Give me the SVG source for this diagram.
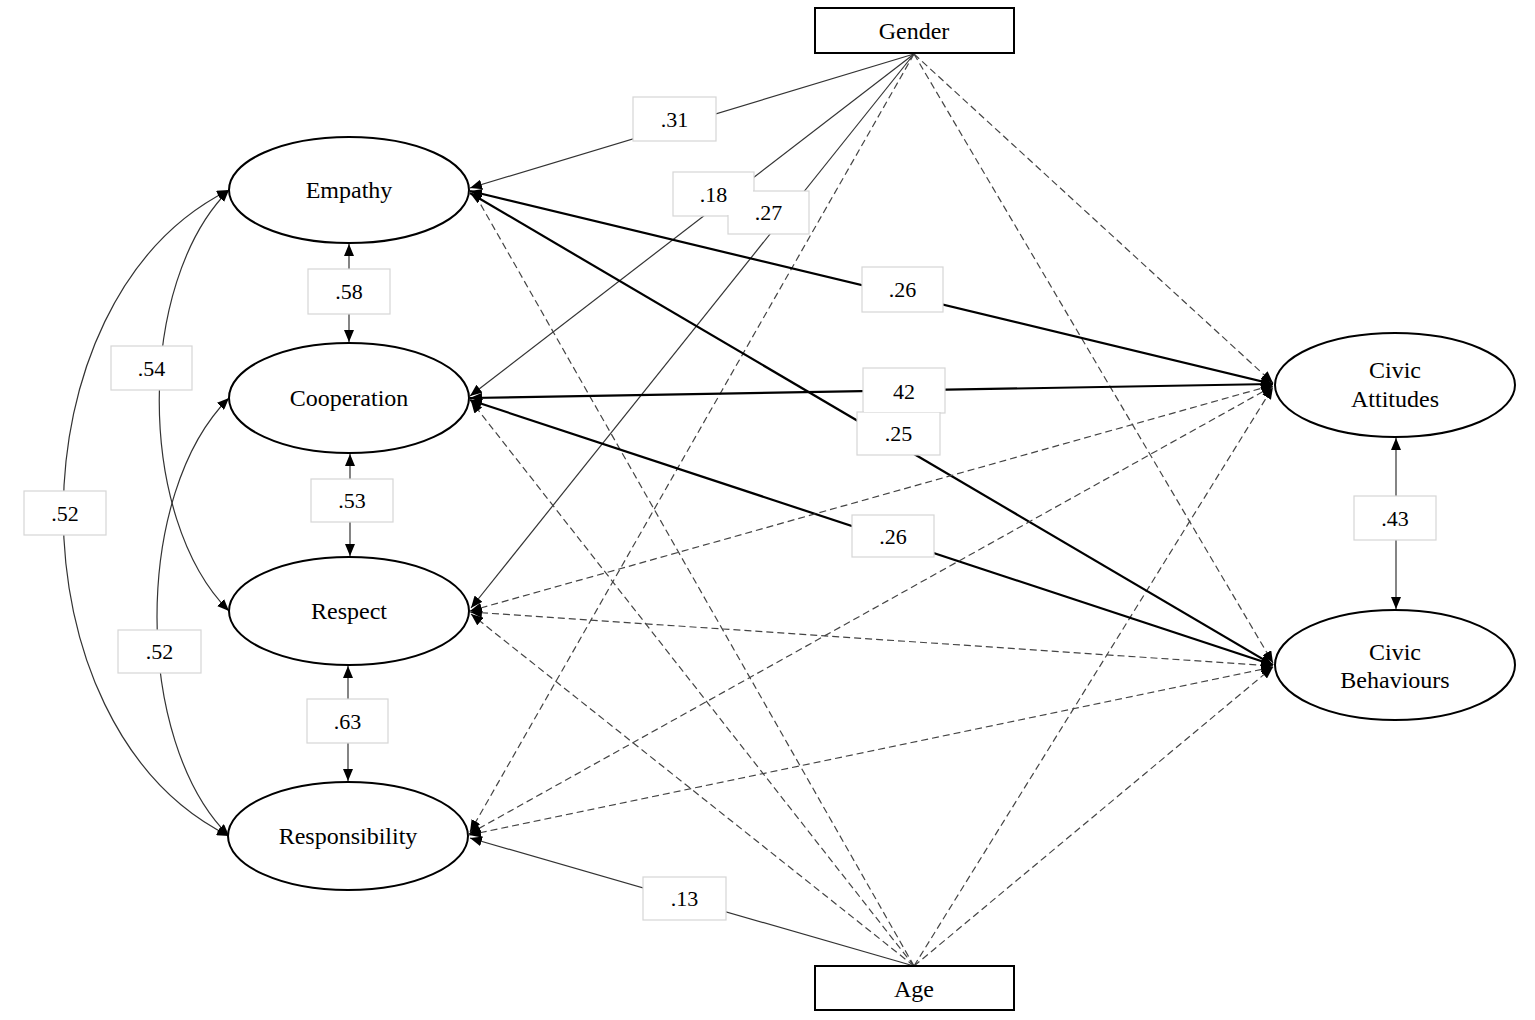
<svg xmlns="http://www.w3.org/2000/svg" width="1535" height="1020" viewBox="0 0 1535 1020">
<style>
.node{fill:#fff;stroke:#000;stroke-width:2}
.nt{font-family:"Liberation Serif","Times New Roman",serif;font-size:24px;fill:#000;text-anchor:middle}
.lt{font-family:"Liberation Serif","Times New Roman",serif;font-size:22px;fill:#000;text-anchor:middle}
.thin{fill:none;stroke:#333;stroke-width:1.2}
.thick{fill:none;stroke:#000;stroke-width:2.2}
.dash{fill:none;stroke:#444;stroke-width:1.2;stroke-dasharray:7 4}
.lb{fill:#fff;stroke:#d6d6d6;stroke-width:1.2}
.lf{fill:#fff;stroke:none}
</style>
<defs>
<marker id="ah" markerUnits="userSpaceOnUse" markerWidth="12" markerHeight="10" viewBox="0 0 12 10" refX="12" refY="5" orient="auto-start-reverse">
<path d="M0,0 L12,5 L0,10 z" fill="#000"/>
</marker>
</defs>
<rect width="1535" height="1020" fill="#fff"/>
<g id="connectors">
<!-- Gender paths -->
<line class="thin" x1="914" y1="54" x2="470" y2="188" marker-end="url(#ah)"/>
<line class="thin" x1="914" y1="54" x2="470" y2="396" marker-end="url(#ah)"/>
<line class="thin" x1="914" y1="54" x2="471" y2="608" marker-end="url(#ah)"/>
<line class="dash" x1="914" y1="54" x2="470" y2="832" marker-end="url(#ah)"/>
<line class="dash" x1="914" y1="54" x2="1273" y2="383" marker-end="url(#ah)"/>
<line class="dash" x1="914" y1="54" x2="1273" y2="663" marker-end="url(#ah)"/>
<!-- Age paths -->
<line class="thin" x1="914" y1="966" x2="470" y2="838" marker-end="url(#ah)"/>
<line class="dash" x1="914" y1="966" x2="477" y2="198"/>
<line class="dash" x1="914" y1="966" x2="471" y2="401" marker-end="url(#ah)"/>
<line class="dash" x1="914" y1="966" x2="471" y2="614" marker-end="url(#ah)"/>
<line class="dash" x1="914" y1="966" x2="1273" y2="387" marker-end="url(#ah)"/>
<line class="dash" x1="914" y1="966" x2="1273" y2="667" marker-end="url(#ah)"/>
<!-- predictor to outcome paths -->
<line class="thick" x1="470" y1="191" x2="1273" y2="384" marker-start="url(#ah)" marker-end="url(#ah)"/>
<line class="thick" x1="470" y1="193" x2="1273" y2="665" marker-start="url(#ah)" marker-end="url(#ah)"/>
<line class="thick" x1="470" y1="398" x2="1273" y2="384" marker-start="url(#ah)" marker-end="url(#ah)"/>
<line class="thick" x1="470" y1="400" x2="1273" y2="665" marker-start="url(#ah)" marker-end="url(#ah)"/>
<line class="dash" x1="470" y1="611" x2="1273" y2="385" marker-start="url(#ah)" marker-end="url(#ah)"/>
<line class="dash" x1="470" y1="612" x2="1273" y2="666" marker-start="url(#ah)" marker-end="url(#ah)"/>
<line class="dash" x1="469" y1="834" x2="1273" y2="386" marker-start="url(#ah)" marker-end="url(#ah)"/>
<line class="dash" x1="469" y1="835" x2="1273" y2="667" marker-start="url(#ah)" marker-end="url(#ah)"/>
<!-- vertical covariances -->
<line class="thin" x1="349" y1="244" x2="349" y2="342" marker-start="url(#ah)" marker-end="url(#ah)"/>
<line class="thin" x1="350" y1="454" x2="350" y2="556" marker-start="url(#ah)" marker-end="url(#ah)"/>
<line class="thin" x1="348" y1="666" x2="348" y2="781" marker-start="url(#ah)" marker-end="url(#ah)"/>
<line class="thin" x1="1396" y1="438" x2="1396" y2="609" marker-start="url(#ah)" marker-end="url(#ah)"/>
<!-- curved covariances -->
<path class="thin" d="M229,190 C8,300 8,726 229,836" marker-start="url(#ah)" marker-end="url(#ah)"/>
<path class="thin" d="M229,190 C136,283 136,518 229,611" marker-start="url(#ah)" marker-end="url(#ah)"/>
<path class="thin" d="M229,398 C133,493 133,741 229,836" marker-start="url(#ah)" marker-end="url(#ah)"/>
</g>
<g id="node-gender"><rect class="node" x="815" y="8" width="199" height="45"/><text class="nt" x="914" y="39">Gender</text></g>
<g id="node-age"><rect class="node" x="815" y="966" width="199" height="44"/><text class="nt" x="914" y="997">Age</text></g>
<g id="node-empathy"><ellipse class="node" cx="349" cy="190" rx="120" ry="53"/><text class="nt" x="349" y="198">Empathy</text></g>
<g id="node-cooperation"><ellipse class="node" cx="349" cy="398" rx="120" ry="55"/><text class="nt" x="349" y="406">Cooperation</text></g>
<g id="node-respect"><ellipse class="node" cx="349" cy="611" rx="120" ry="54"/><text class="nt" x="349" y="619">Respect</text></g>
<g id="node-responsibility"><ellipse class="node" cx="348" cy="836" rx="120" ry="54"/><text class="nt" x="348" y="844">Responsibility</text></g>
<g id="node-civic-attitudes"><ellipse class="node" cx="1395" cy="385" rx="120" ry="52"/><text class="nt" x="1395" y="378">Civic</text><text class="nt" x="1395" y="407">Attitudes</text></g>
<g id="node-civic-behaviours"><ellipse class="node" cx="1395" cy="665" rx="120" ry="55"/><text class="nt" x="1395" y="660">Civic</text><text class="nt" x="1395" y="688">Behaviours</text></g>
<g id="labels">
<rect class="lb" x="633" y="97" width="83" height="44"/><text class="lt" x="674.5" y="127">.31</text>
<rect class="lb" x="673" y="172" width="81" height="44"/>
<rect class="lb" x="728" y="191" width="81" height="43"/>
<rect class="lf" x="674" y="173" width="79" height="42"/>
<rect class="lf" x="729" y="192" width="79" height="41"/>
<text class="lt" x="713.5" y="202">.18</text><text class="lt" x="768.5" y="220">.27</text>
<rect class="lb" x="308" y="269" width="82" height="45"/><text class="lt" x="349" y="299">.58</text>
<rect class="lb" x="862" y="267" width="81" height="45"/><text class="lt" x="902.5" y="297">.26</text>
<rect class="lb" x="111" y="346" width="81" height="44"/><text class="lt" x="151.5" y="376">.54</text>
<rect class="lb" x="863" y="368" width="82" height="45"/>
<rect class="lb" x="857" y="412" width="83" height="43"/>
<rect class="lf" x="864" y="369" width="80" height="43"/>
<rect class="lf" x="858" y="413" width="81" height="41"/>
<text class="lt" x="904" y="399">42</text><text class="lt" x="898.5" y="441">.25</text>
<rect class="lb" x="311" y="479" width="82" height="43"/><text class="lt" x="352" y="508">.53</text>
<rect class="lb" x="24" y="491" width="82" height="44"/><text class="lt" x="65" y="521">.52</text>
<rect class="lb" x="852" y="515" width="82" height="42"/><text class="lt" x="893" y="544">.26</text>
<rect class="lb" x="1354" y="496" width="82" height="44"/><text class="lt" x="1395" y="526">.43</text>
<rect class="lb" x="118" y="630" width="83" height="43"/><text class="lt" x="159.5" y="659">.52</text>
<rect class="lb" x="307" y="699" width="81" height="44"/><text class="lt" x="347.5" y="729">.63</text>
<rect class="lb" x="643" y="877" width="83" height="43"/><text class="lt" x="684.5" y="906">.13</text>
</g>
</svg>
